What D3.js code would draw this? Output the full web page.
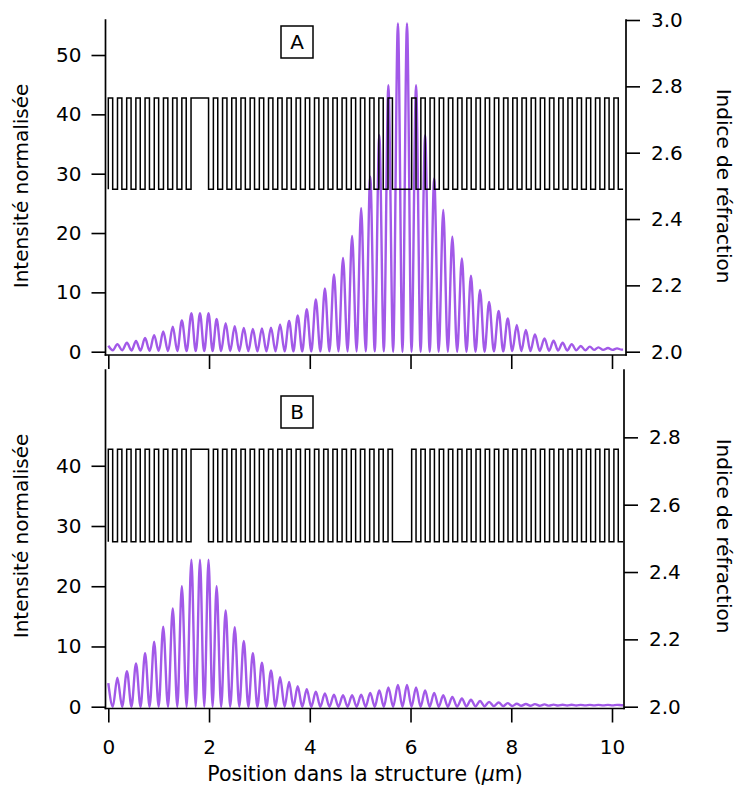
<!DOCTYPE html>
<html>
<head>
<meta charset="utf-8">
<script src="https://cdn.jsdelivr.net/npm/d3@7"></script>
<style>
  body { margin: 0; background: #fff; }
  svg { display: block; }
</style>
</head>
<body>
<div class="wrapper"></div>
<script>
// ---- data ----
var xTicks = [0, 2, 4, 6, 8, 10];
var leftTicksA = [0, 10, 20, 30, 40, 50];
var leftTicksB = [0, 10, 20, 30, 40];
var rightTicksA = [2.0, 2.2, 2.4, 2.6, 2.8, 3.0];
var rightTicksB = [2.0, 2.2, 2.4, 2.6, 2.8];

// refractive index profile (same structure in both panels)
var indexHigh = 2.765, indexLow = 2.49;
var layerWidth = { H: 0.087, L: 0.0955 }; // µm
var stackBlocks = [
    { pattern: "HL", repeat: 9 },
    { pattern: "HHHH", repeat: 1 },   // wide high index defect
    { pattern: "LH", repeat: 20 },
    { pattern: "LLLL", repeat: 1 },   // wide low index defect
    { pattern: "HL", repeat: 23 }
];

// positions of the intensity maxima (µm)
var peakX = [0.00, 0.18, 0.37, 0.55, 0.73, 0.91, 1.09, 1.28, 1.46,
    1.65, 1.82, 1.99,
    2.15, 2.33, 2.51, 2.69, 2.87, 3.05, 3.23, 3.41, 3.59, 3.76,
    3.94, 4.12, 4.30, 4.48, 4.66, 4.84, 5.02, 5.20, 5.38, 5.56,
    5.75, 5.93,
    6.11, 6.29, 6.47, 6.65, 6.83, 7.02, 7.20, 7.38, 7.56, 7.75, 7.93, 8.11,
    8.29, 8.47, 8.66, 8.84, 9.02, 9.20, 9.38, 9.56, 9.73, 9.92, 10.10];

// panel A: maxima and the minima that follow each maximum
var peaksA = [1.0, 1.25, 1.5, 1.8, 2.3, 2.8, 3.4, 4.2, 5.25,
    6.5, 6.5, 6.5,
    5.5, 4.8, 4.3, 4.0, 3.85, 3.9, 4.05, 4.6, 5.2, 6.1,
    7.15, 8.8, 10.65, 13.0, 15.8, 19.5, 24.2, 29.5, 36.5, 44.9,
    55.3, 55.3,
    44.9, 36.5, 29.2, 23.9, 19.4, 15.7, 12.8, 10.4, 8.4, 6.85, 5.6, 4.5,
    3.65, 2.9, 2.25, 1.85, 1.5, 1.25, 0.95, 0.85, 0.73, 0.62, 0.56];
var troughsA = [0.25, 0.25, 0.2, 0.2, 0.15, 0.15, 0.1, 0.1, 0.1,
    0.1, 0.1, 0.1,
    0.1, 0.1, 0.1, 0.1, 0.05, 0.05, 0.05, 0.05, 0.05, 0.05,
    0.05, 0.05, 0.05, 0.05, 0.05, 0.05, 0.05, 0.05, 0.05, 0,
    0, 0,
    0, 0, 0, 0, 0, 0, 0, 0, 0.05, 0.05, 0.1, 0.1,
    0.1, 0.15, 0.15, 0.2, 0.2, 0.25, 0.25, 0.3, 0.3, 0.3, 0.35];

// panel B
var peaksB = [3.9, 4.8, 5.9, 7.2, 8.9, 10.8, 13.3, 16.3, 20.0,
    24.4, 24.4, 24.4,
    20.0, 16.0, 13.2, 10.9, 8.9, 7.3, 6.0, 4.9, 4.1, 3.4,
    2.9, 2.5, 2.2, 2.0, 1.9, 1.9, 2.0, 2.3, 2.7, 3.2,
    3.6, 3.6,
    3.2, 2.7, 2.3, 1.9, 1.6, 1.35, 1.15, 0.95, 0.8, 0.7, 0.6, 0.5,
    0.45, 0.42, 0.38, 0.35, 0.33, 0.32, 0.3, 0.3, 0.3, 0.3, 0.3];
var troughsB = [0, 0, 0, 0, 0, 0, 0, 0, 0,
    0, 0, 0,
    0, 0, 0, 0, 0, 0, 0, 0, 0, 0,
    0, 0, 0, 0, 0, 0, 0, 0, 0, 0,
    0, 0,
    0, 0, 0, 0, 0.02, 0.05, 0.05, 0.08, 0.1, 0.1, 0.12, 0.15,
    0.15, 0.17, 0.18, 0.2, 0.2, 0.2, 0.22, 0.22, 0.22, 0.22, 0.25];

// ---- drawing ----
var width = 736, height = 789;
var fontFamily = "'DejaVu Sans', Verdana, sans-serif";
var purple = "#a259e8";

var svg = d3.select(".wrapper").append("svg")
    .attr("width", width)
    .attr("height", height)
    .style("font-family", fontFamily);

var x = d3.scaleLinear()
    .domain([0, 10])
    .range([108.3, 612]);

// layer list -> step path in (x, index)
var layers = [];
stackBlocks.forEach(function(b) {
    for (var r = 0; r < b.repeat; r++) {
        b.pattern.split("").forEach(function(t) { layers.push(t); });
    }
});
var profile = [];
var pos = 0;
layers.forEach(function(t) {
    var n = t == "H" ? indexHigh : indexLow;
    profile.push([pos, n]);
    pos += layerWidth[t];
    profile.push([pos, n]);
});
var structureEnd = pos;
profile.unshift([0, indexLow]);

var panels = [
    { name: "A", yTop: 20, yZero: 351.7, axisY: 355, leftX: 105.5, rightX: 626,
      leftTicks: leftTicksA, rightTicks: rightTicksA, peaks: peaksA, troughs: troughsA,
      xLabels: false, boxY: 26, titleY: 186 },
    { name: "B", yTop: 370, yZero: 706.7, axisY: 708.5, leftX: 105.5, rightX: 624,
      leftTicks: leftTicksB, rightTicks: rightTicksB, peaks: peaksB, troughs: troughsB,
      xLabels: true, boxY: 396, titleY: 536 }
];

panels.forEach(function(p) {
    var g = svg.append("g").attr("class", "panel-" + p.name);

    var yLeft = d3.scaleLinear().domain([0, 55.9]).range([p.yZero, p.yTop]);
    var yRight = d3.scaleLinear().domain([2, 3]).range([p.yZero, p.yTop]);

    // intensity: maxima joined through the minima between them
    var pts = [];
    for (var i = 0; i < p.peaks.length; i++) {
        pts.push([peakX[i], p.peaks[i]]);
        var next = i < peakX.length - 1 ? (peakX[i] + peakX[i + 1]) / 2 : peakX[i] + 0.09;
        pts.push([next, p.troughs[i]]);
    }
    pts.push([structureEnd, p.troughs[p.troughs.length - 1]]);

    var line = d3.line()
        .x(function(d) { return x(d[0]); })
        .y(function(d) { return yLeft(d[1]); })
        .curve(d3.curveMonotoneX);

    g.append("path")
        .datum(pts)
        .attr("fill", "none")
        .attr("stroke", purple)
        .attr("stroke-width", 2.4)
        .attr("stroke-linejoin", "round")
        .attr("d", line);

    // index profile
    var step = d3.line()
        .x(function(d) { return x(d[0]); })
        .y(function(d) { return yRight(d[1]); });

    g.append("path")
        .datum(profile)
        .attr("fill", "none")
        .attr("stroke", "#000")
        .attr("stroke-width", 1.5)
        .attr("d", step);

    // axes
    var axisStyle = function(sel) {
        sel.select(".domain").remove();
        sel.selectAll(".tick line").attr("stroke", "#000").attr("stroke-width", 1.6);
        sel.selectAll(".tick text")
            .attr("fill", "#000")
            .attr("font-size", 20)
            .attr("font-family", fontFamily);
    };

    g.append("g")
        .attr("transform", "translate(" + p.leftX + ",0)")
        .call(d3.axisLeft(yLeft).tickValues(p.leftTicks).tickSize(14).tickPadding(10))
        .call(axisStyle);

    g.append("g")
        .attr("transform", "translate(" + p.rightX + ",0)")
        .call(d3.axisRight(yRight).tickValues(p.rightTicks).tickSize(14).tickPadding(11)
            .tickFormat(d3.format(".1f")))
        .call(axisStyle);

    var xAxis = d3.axisBottom(x).tickValues(xTicks).tickSize(14).tickPadding(17);
    if (!p.xLabels) xAxis.tickFormat("");
    g.append("g")
        .attr("transform", "translate(0," + p.axisY + ")")
        .call(xAxis)
        .call(axisStyle);

    // axis lines
    var frame = [
        [[p.leftX, p.yTop], [p.leftX, p.axisY]],
        [[p.rightX, p.yTop], [p.rightX, p.axisY]],
        [[p.leftX, p.axisY], [p.rightX, p.axisY]]
    ];
    g.selectAll(".frame")
        .data(frame)
        .enter().append("line")
        .attr("class", "frame")
        .attr("x1", function(d) { return d[0][0]; })
        .attr("y1", function(d) { return d[0][1]; })
        .attr("x2", function(d) { return d[1][0]; })
        .attr("y2", function(d) { return d[1][1]; })
        .attr("stroke", "#000")
        .attr("stroke-width", 1.7)
        .attr("stroke-linecap", "square");

    // axis titles
    g.append("text")
        .attr("transform", "translate(28," + p.titleY + ") rotate(-90)")
        .attr("text-anchor", "middle")
        .attr("font-size", 20)
        .text("Intensité normalisée");

    g.append("text")
        .attr("transform", "translate(717," + p.titleY + ") rotate(90)")
        .attr("text-anchor", "middle")
        .attr("font-size", 20)
        .text("Indice de réfraction");

    // panel letter in a box
    g.append("rect")
        .attr("x", 281)
        .attr("y", p.boxY)
        .attr("width", 32)
        .attr("height", 32)
        .attr("fill", "#fff")
        .attr("stroke", "#000")
        .attr("stroke-width", 1.5);
    g.append("text")
        .attr("x", 297)
        .attr("y", p.boxY + 23)
        .attr("text-anchor", "middle")
        .attr("font-size", 20)
        .text(p.name);
});

var xTitle = svg.append("text")
    .attr("x", 365)
    .attr("y", 781)
    .attr("text-anchor", "middle")
    .attr("font-size", 20.5);
xTitle.append("tspan").text("Position dans la structure (");
xTitle.append("tspan").attr("font-style", "italic").text("µ");
xTitle.append("tspan").text("m)");
</script>
</body>
</html>
